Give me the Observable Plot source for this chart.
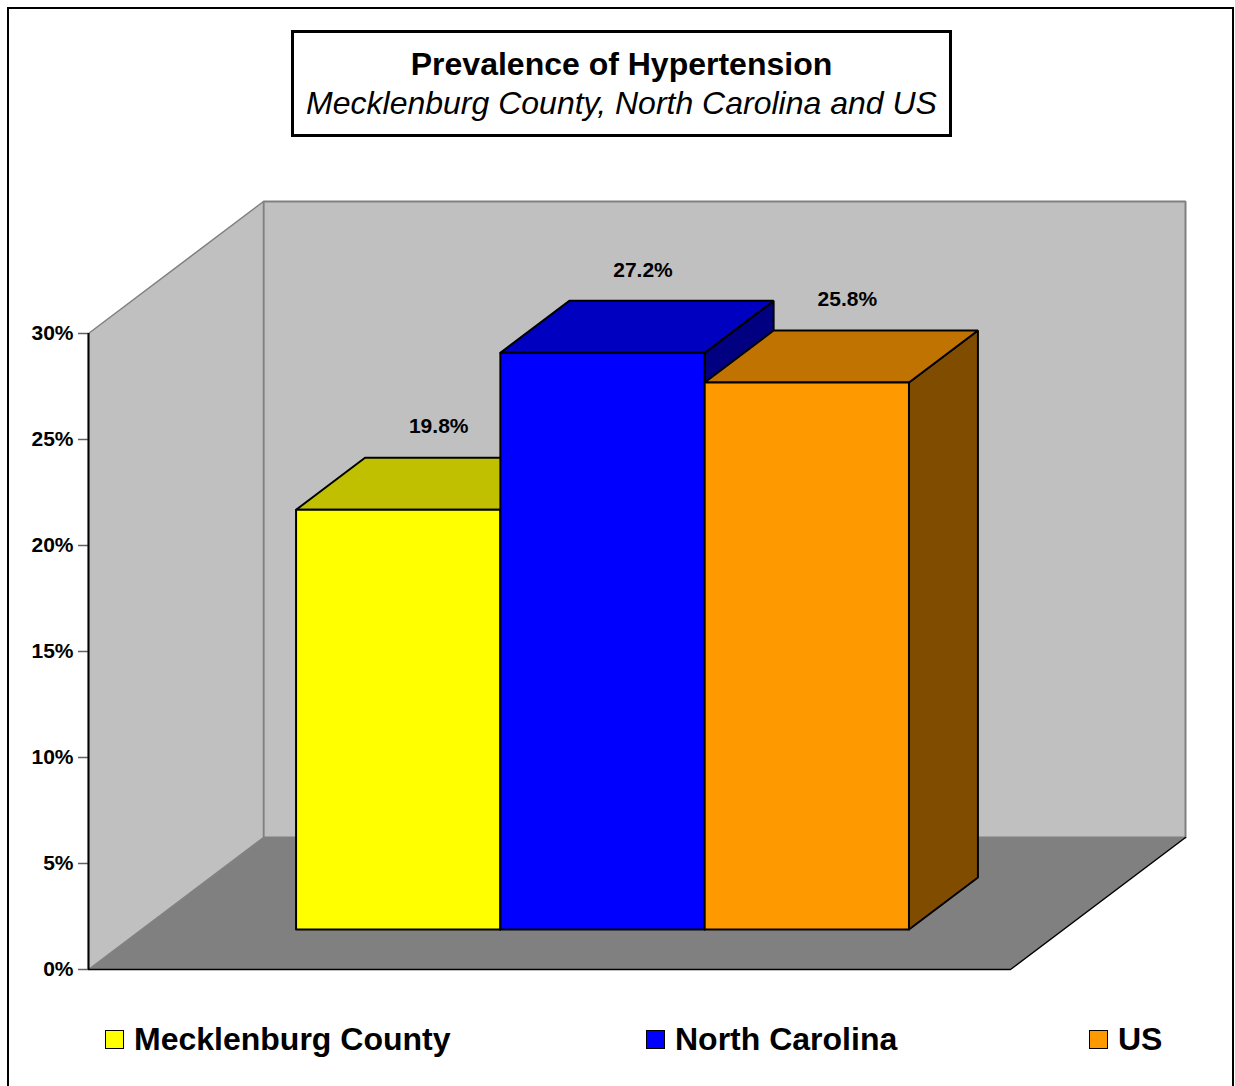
<!DOCTYPE html>
<html>
<head>
<meta charset="utf-8">
<script src="https://cdn.jsdelivr.net/npm/d3@7"></script>
<script src="https://cdn.jsdelivr.net/npm/@observablehq/plot@0.6"></script>
<style>
  html, body { margin: 0; padding: 0; background: #fff; }
  body { width: 1235px; height: 1086px; position: relative; overflow: hidden;
         font-family: "Liberation Sans", Arial, sans-serif; color: #000; }
  #frame { position: absolute; left: 7px; top: 7px; width: 1227px; height: 1095px;
           border: 2px solid #000; box-sizing: border-box; }
  #titlebox { position: absolute; left: 291px; top: 30px; width: 661px; height: 107px;
              border: 3px solid #000; box-sizing: border-box; background: #fff; }
  .tline { position: absolute; left: 291px; width: 661px; text-align: center;
           font-size: 32px; line-height: 40px; height: 40px; white-space: nowrap; }
  #title { top: 44px; font-weight: bold; }
  #subtitle { top: 83px; font-style: italic; }
  #chart { position: absolute; left: 0; top: 150px; }
  #chart svg [aria-label^="y-axis"] text { font-size: 21px; font-weight: bold; fill: #000; }
  #chart svg [aria-label^="y-axis"] line,
  #chart svg [aria-label="y-axis tick"] path { stroke: #606060; stroke-width: 1.5px; }
  .leg { position: absolute; top: 1019px; height: 40px; line-height: 40px;
         font-size: 32px; font-weight: bold; white-space: nowrap; }
  .sw { position: absolute; top: 1030px; width: 19px; height: 19px;
        border: 1.5px solid #000; box-sizing: border-box; }
</style>
</head>
<body>
<div id="frame"></div>
<div id="titlebox"></div>
<div class="tline" id="title"></div>
<div class="tline" id="subtitle"></div>
<div id="chart"></div>
<div id="legend"></div>
<script>
// ---- data ----
const titleText = "Prevalence of Hypertension";
const subtitleText = "Mecklenburg County, North Carolina and US";
const categories = ["Mecklenburg County", "North Carolina", "US"];
const values = [19.8, 27.2, 25.8];
const valueLabels = ["19.8%", "27.2%", "25.8%"];
const yTicks = [0, 5, 10, 15, 20, 25, 30];
const frontColors = ["#ffff00", "#0000ff", "#ff9900"];
const topColors = ["#c0c000", "#0000c0", "#c07300"];
const sideColors = ["#808000", "#000080", "#804d00"];
const legendLeft = [105, 646, 1089];

// ---- 3D geometry (oblique projection in data units) ----
const GAP = 0.7565;            // floor gap left/right of bars, in bar widths
const W = categories.length + 2 * GAP;
const DX = 0.8566;             // depth shift along x per unit depth (bar widths)
const DY = 6.226;              // depth shift along y per unit depth (percent)
const Z0 = 0.303, Z1 = 0.697;  // bar depth extent
const yMax = yTicks[yTicks.length - 1];

const proj = (x, y, z) => ({x: x + z * DX, y: y + z * DY});
const face = (pts, fill, stroke, sw = 2) =>
  Plot.line([...pts, pts[0], pts[1]], {x: "x", y: "y", fill, stroke, strokeWidth: sw,
    strokeLinejoin: "miter", curve: "linear"});

document.getElementById("title").textContent = titleText;
document.getElementById("subtitle").textContent = subtitleText;

const marks = [];
// floor
marks.push(face([proj(0,0,0), proj(W,0,0), proj(W,0,1), proj(0,0,1)], "#808080", "none", 0));
// back wall
marks.push(face([proj(0,0,1), proj(W,0,1), proj(W,yMax,1), proj(0,yMax,1)], "#c0c0c0", "#808080", 2));
// left wall
marks.push(face([proj(0,0,0), proj(0,0,1), proj(0,yMax,1), proj(0,yMax,0)], "#c0c0c0", "#808080", 1.5));
// floor front + right edges
marks.push(Plot.line([proj(0,0,0), proj(W,0,0), proj(W,0,1)], {x: "x", y: "y", stroke: "#000", strokeWidth: 1.5, strokeLinejoin: "miter"}));
// axis line
marks.push(Plot.ruleX([0], {y1: yTicks[0], y2: yMax, stroke: "#000", strokeWidth: 2}));

// bars
values.forEach((v, i) => {
  const x0 = GAP + i, x1 = GAP + i + 1;
  marks.push(face([proj(x1,0,Z0), proj(x1,0,Z1), proj(x1,v,Z1), proj(x1,v,Z0)], sideColors[i], "#000", 2));
  marks.push(face([proj(x0,v,Z0), proj(x1,v,Z0), proj(x1,v,Z1), proj(x0,v,Z1)], topColors[i], "#000", 2));
  marks.push(face([proj(x0,0,Z0), proj(x1,0,Z0), proj(x1,v,Z0), proj(x0,v,Z0)], frontColors[i], "#000", 2));
});

// value labels
const labelData = values.map((v, i) => ({...proj(GAP + i + 0.5, v, 0.5), t: valueLabels[i]}));
marks.push(Plot.text(labelData, {x: "x", y: "y", text: "t", dx: 6, dy: -57,
  fontSize: 21, fontWeight: "bold", fill: "#000"}));

const chart = Plot.plot({
  width: 1235,
  height: 850,
  marginLeft: 88,
  marginRight: 225,
  marginTop: 183,
  marginBottom: 31,
  x: {type: "linear", domain: [0, W], axis: null},
  y: {type: "linear", domain: [0, yMax], ticks: yTicks, tickFormat: d => d + "%",
      tickSize: 10, tickPadding: 5, label: null, axis: "left"},
  style: {fontFamily: "'Liberation Sans', Arial, sans-serif", background: "transparent", overflow: "visible"},
  marks
});
document.getElementById("chart").appendChild(chart);

// legend
const leg = document.getElementById("legend");
categories.forEach((c, i) => {
  const sw = document.createElement("div");
  sw.className = "sw";
  sw.style.left = legendLeft[i] + "px";
  sw.style.background = frontColors[i];
  leg.appendChild(sw);
  const t = document.createElement("div");
  t.className = "leg";
  t.style.left = (legendLeft[i] + 29) + "px";
  t.textContent = c;
  leg.appendChild(t);
});
</script>
</body>
</html>
